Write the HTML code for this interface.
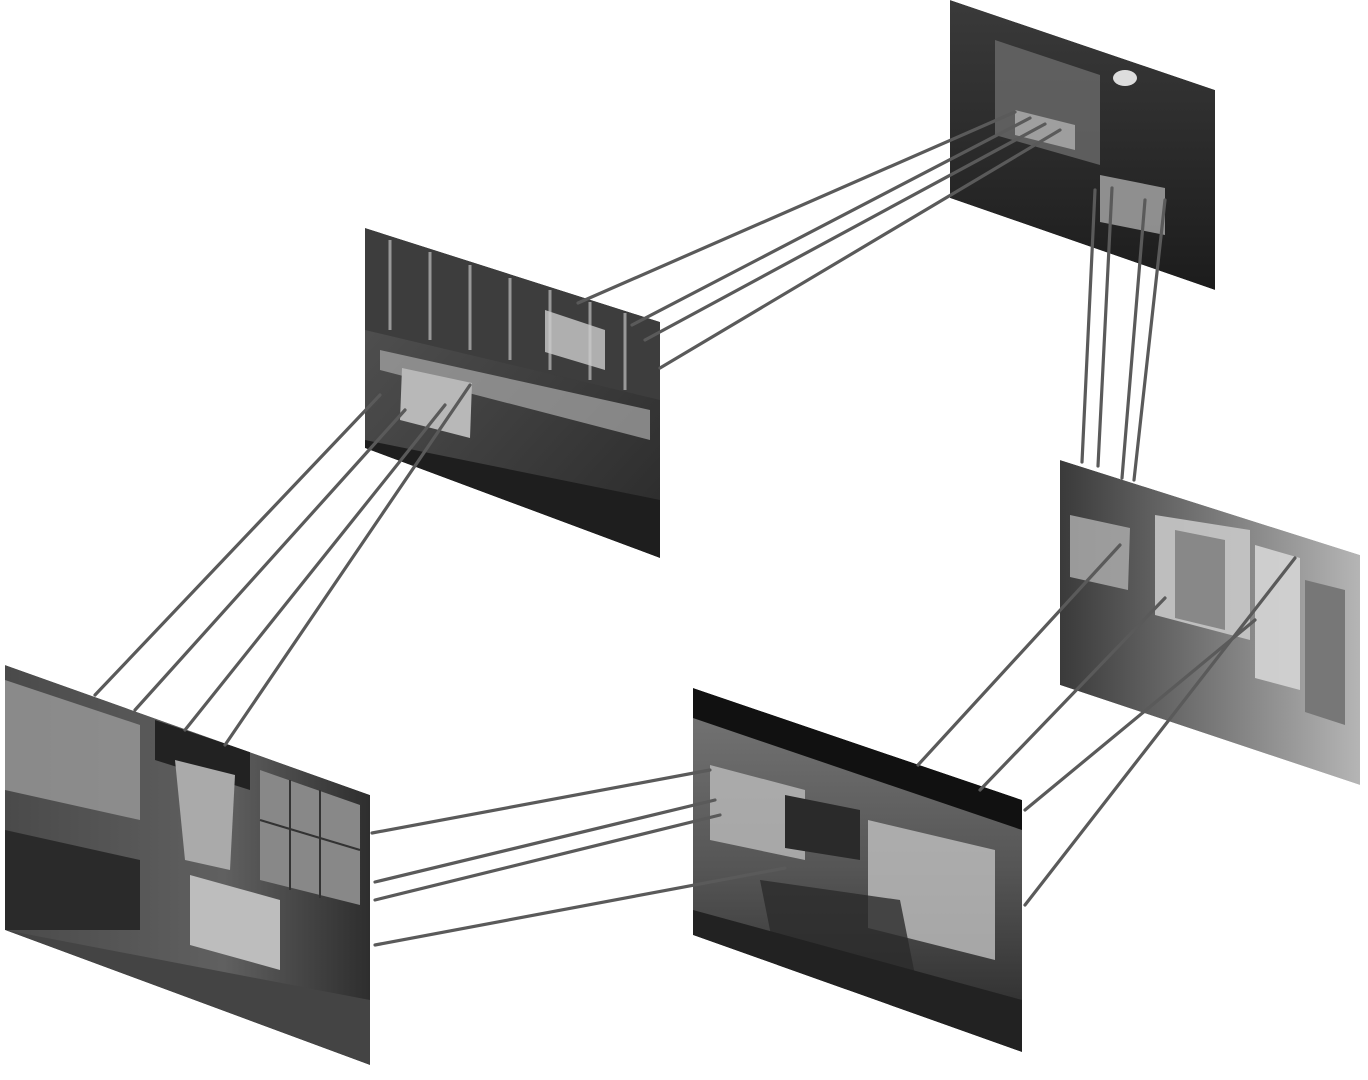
<!DOCTYPE html>
<html><head><meta charset="utf-8"><style>html,body{margin:0;padding:0;background:#fff}svg{display:block}</style></head>
<body>
<svg width="1368" height="1080" viewBox="0 0 1368 1080" xmlns="http://www.w3.org/2000/svg">
<defs>
<linearGradient id="g1" x1="0" y1="0" x2="0" y2="1"><stop offset="0" stop-color="#3a3a3a"/><stop offset="1" stop-color="#1c1c1c"/></linearGradient>
<linearGradient id="g2" x1="0" y1="0" x2="1" y2="1"><stop offset="0" stop-color="#555"/><stop offset="1" stop-color="#2a2a2a"/></linearGradient>
<linearGradient id="g3" x1="0" y1="0" x2="1" y2="0"><stop offset="0" stop-color="#3a3a3a"/><stop offset="0.5" stop-color="#777"/><stop offset="1" stop-color="#b5b5b5"/></linearGradient>
<linearGradient id="g4" x1="0" y1="0" x2="0" y2="1"><stop offset="0" stop-color="#777"/><stop offset="0.5" stop-color="#555"/><stop offset="1" stop-color="#262626"/></linearGradient>
<linearGradient id="g5" x1="0" y1="0" x2="1" y2="0"><stop offset="0" stop-color="#4a4a4a"/><stop offset="0.6" stop-color="#606060"/><stop offset="1" stop-color="#2e2e2e"/></linearGradient>
<clipPath id="c1"><polygon points="950,0 1215,90 1215,290 950,198"/></clipPath>
<clipPath id="c2"><polygon points="365,228 660,322 660,558 365,448"/></clipPath>
<clipPath id="c3"><polygon points="1060,460 1360,555 1360,785 1060,685"/></clipPath>
<clipPath id="c4"><polygon points="693,688 1022,800 1022,1052 693,935"/></clipPath>
<clipPath id="c5"><polygon points="5,665 370,795 370,1065 5,930"/></clipPath>
</defs>

<g clip-path="url(#c1)">
<polygon points="950,0 1215,90 1215,290 950,198" fill="url(#g1)"/>
<polygon points="995,40 1100,75 1100,165 995,135" fill="#6a6a6a" opacity="0.8"/>
<polygon points="1015,110 1075,125 1075,150 1015,135" fill="#bbb" opacity="0.7"/>
<polygon points="1100,175 1165,188 1165,235 1100,222" fill="#aaa" opacity="0.8"/>
<ellipse cx="1125" cy="78" rx="12" ry="8" fill="#ddd"/>
</g>

<g clip-path="url(#c2)">
<polygon points="365,228 660,322 660,558 365,448" fill="url(#g2)"/>
<polygon points="365,228 660,322 660,400 365,330" fill="#3d3d3d"/>
<g stroke="#999" stroke-width="3">
<line x1="390" y1="240" x2="390" y2="330"/><line x1="430" y1="252" x2="430" y2="340"/><line x1="470" y1="265" x2="470" y2="350"/><line x1="510" y1="278" x2="510" y2="360"/><line x1="550" y1="290" x2="550" y2="370"/><line x1="590" y1="302" x2="590" y2="380"/><line x1="625" y1="313" x2="625" y2="390"/>
</g>
<polygon points="380,350 650,410 650,440 380,370" fill="#aaa" opacity="0.7"/>
<polygon points="545,310 605,330 605,370 545,352" fill="#ccc" opacity="0.8"/>
<polygon points="402,368 472,383 470,438 400,420" fill="#b8b8b8"/>
<polygon points="365,440 660,500 660,558 365,448" fill="#1e1e1e"/>
</g>

<g clip-path="url(#c3)">
<polygon points="1060,460 1360,555 1360,785 1060,685" fill="url(#g3)"/>
<polygon points="1070,515 1130,528 1128,590 1070,577" fill="#aaa" opacity="0.85"/>
<polygon points="1155,515 1250,530 1250,640 1155,615" fill="#c8c8c8" opacity="0.9"/>
<polygon points="1175,530 1225,540 1225,630 1175,618" fill="#888"/>
<polygon points="1305,580 1345,590 1345,725 1305,712" fill="#777"/>
<polygon points="1255,545 1300,558 1300,690 1255,678" fill="#d5d5d5" opacity="0.9"/>
</g>

<g clip-path="url(#c4)">
<polygon points="693,688 1022,800 1022,1052 693,935" fill="url(#g4)"/>
<polygon points="693,688 1022,800 1022,830 693,718" fill="#111"/>
<polygon points="710,765 805,790 805,860 710,840" fill="#bbb" opacity="0.8"/>
<polygon points="785,795 860,810 860,860 785,848" fill="#2a2a2a"/>
<polygon points="868,820 995,850 995,960 868,928" fill="#c0c0c0" opacity="0.8"/>
<polygon points="760,880 900,900 920,1000 780,980" fill="#2a2a2a" opacity="0.8"/>
<polygon points="693,910 1022,1000 1022,1052 693,935" fill="#222"/>
</g>

<g clip-path="url(#c5)">
<polygon points="5,665 370,795 370,1065 5,930" fill="url(#g5)"/>
<polygon points="5,680 140,725 140,820 5,790" fill="#9a9a9a" opacity="0.8"/>
<polygon points="260,770 360,805 360,905 260,880" fill="#888"/>
<g stroke="#333" stroke-width="2"><line x1="290" y1="780" x2="290" y2="890"/><line x1="320" y1="790" x2="320" y2="898"/><line x1="260" y1="820" x2="360" y2="850"/></g>
<polygon points="155,720 250,752 250,790 155,760" fill="#222"/>
<polygon points="175,760 235,775 230,870 185,860" fill="#aaa"/>
<polygon points="190,875 280,900 280,970 190,945" fill="#bdbdbd"/>
<polygon points="5,830 140,860 140,930 5,930" fill="#2a2a2a"/>
<polygon points="5,930 370,1000 370,1065" fill="#444"/>
</g>

<g stroke="#5a5a5a" stroke-width="3.2" fill="none" stroke-linecap="round">
<line x1="578" y1="303" x2="1015" y2="112"/>
<line x1="632" y1="325" x2="1030" y2="118"/>
<line x1="645" y1="340" x2="1045" y2="124"/>
<line x1="660" y1="368" x2="1060" y2="130"/>
<line x1="1082" y1="462" x2="1095" y2="190"/>
<line x1="1098" y1="466" x2="1112" y2="188"/>
<line x1="1122" y1="478" x2="1145" y2="200"/>
<line x1="1134" y1="480" x2="1165" y2="200"/>
<line x1="380" y1="395" x2="95" y2="695"/>
<line x1="405" y1="410" x2="135" y2="710"/>
<line x1="445" y1="405" x2="185" y2="730"/>
<line x1="470" y1="385" x2="225" y2="745"/>
<line x1="372" y1="833" x2="710" y2="770"/>
<line x1="375" y1="882" x2="715" y2="800"/>
<line x1="375" y1="900" x2="720" y2="815"/>
<line x1="375" y1="945" x2="785" y2="868"/>
<line x1="918" y1="765" x2="1120" y2="545"/>
<line x1="980" y1="790" x2="1165" y2="598"/>
<line x1="1025" y1="810" x2="1255" y2="620"/>
<line x1="1025" y1="905" x2="1295" y2="558"/>
</g>
</svg>
</body></html>
